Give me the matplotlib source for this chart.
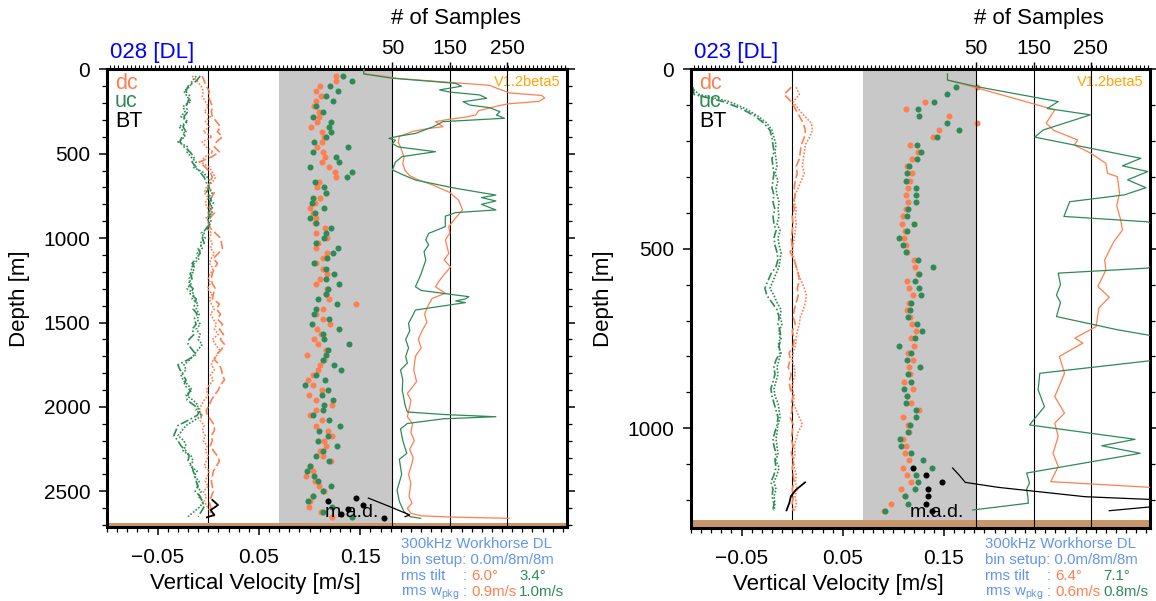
import numpy as np
import matplotlib
matplotlib.use("Agg")
import matplotlib.pyplot as plt
from matplotlib.ticker import MultipleLocator, FixedLocator, FuncFormatter

plt.rcParams['font.family'] = ['Liberation Sans', 'DejaVu Sans']
plt.rcParams['mathtext.fontset'] = 'custom'
plt.rcParams['mathtext.rm'] = 'Liberation Sans'
plt.rcParams['mathtext.it'] = 'Liberation Sans:italic'

ORANGE = '#FF7F50'
GREEN = '#2E8B57'
VERS = '#FFA500'
INFO = '#6495ED'
SEABED = '#C8966A'
BAND = '#C8C8C8'

# ---------------- cast 028 (left) ----------------
L_top, L_step = 40, 30           # depth bins of profiles [m]
L_dc1 = [-0.006, -0.004, -0.002, 0.001, 0.000, 0.002, 0.004, 0.003, 0.004, 0.008,
         0.012, 0.009, 0.014, 0.008, 0.006, 0.011, 0.003, -0.009, -0.003, 0.002,
         0.004, 0.001, 0.000, 0.006, 0.003, 0.002, 0.001, 0.006, 0.002, 0.000,
         0.002, 0.007, 0.012, 0.013, 0.014, 0.010, 0.005, 0.009, 0.006, 0.004,
         0.003, 0.004, 0.007, 0.005, 0.004, 0.011, 0.008, 0.012, 0.009, 0.014,
         0.011, 0.015, 0.012, 0.016, 0.013, 0.008, 0.006, 0.011, 0.013, 0.014,
         0.016, 0.012, 0.010, 0.006, 0.003, 0.001, -0.002, -0.001, 0.003, 0.006,
         0.006, 0.003, 0.004, 0.002, 0.005, 0.009, 0.011, 0.008, 0.005, 0.004,
         0.003, 0.004, 0.005, 0.003, 0.001, 0.002, 0.004, 0.006]
L_dc2 = [-0.016, -0.011, -0.007, -0.005, -0.006, -0.003, 0.000, -0.004, 0.002, -0.003,
         0.001, -0.005, 0.004, -0.006, -0.002, 0.005, -0.004, -0.007, 0.001, 0.004,
         0.007, 0.004, -0.002, -0.004, 0.000, -0.003, -0.001, 0.003, -0.002, 0.001,
         -0.001, 0.003, 0.001, 0.004, 0.002, 0.006, 0.003, 0.001, 0.005, 0.002,
         0.000, 0.002, -0.001, 0.004, 0.001, 0.003, 0.006, 0.002, 0.005, 0.008,
         0.006, 0.010, 0.004, 0.007, 0.011, 0.009, 0.005, 0.003, 0.006, 0.002,
         0.005, 0.001, -0.002, 0.000, -0.004, -0.007, -0.009, -0.006, -0.008, -0.004,
         -0.006, -0.003, -0.005, -0.001, -0.003, 0.000, -0.002, -0.004, 0.001, -0.001,
         -0.003, 0.000, -0.005, -0.002, -0.004, -0.001, 0.002, 0.003]
L_uc1 = [-0.008, -0.012, -0.020, -0.022, -0.018, -0.020, -0.022, -0.020, -0.024, -0.022,
         -0.025, -0.022, -0.026, -0.028, -0.024, -0.018, -0.014, -0.016, -0.012, -0.008,
         -0.004, -0.002, 0.001, -0.002, 0.003, 0.001, 0.004, 0.000, 0.002, 0.003,
         -0.002, -0.004, -0.006, -0.004, -0.010, -0.008, -0.012, -0.016, -0.013, -0.018,
         -0.016, -0.020, -0.015, -0.018, -0.012, -0.013, -0.015, -0.011, -0.014, -0.012,
         -0.016, -0.014, -0.019, -0.020, -0.016, -0.012, -0.020, -0.030, -0.028, -0.025,
         -0.022, -0.024, -0.018, -0.020, -0.021, -0.014, -0.008, -0.011, -0.020, -0.030,
         -0.032, -0.034, -0.030, -0.027, -0.022, -0.019, -0.020, -0.016, -0.015, -0.013,
         -0.012, -0.010, -0.013, -0.008, -0.006, -0.004, -0.007, -0.010]
L_uc2 = [-0.012, -0.016, -0.018, -0.024, -0.021, -0.017, -0.025, -0.023, -0.027, -0.020,
         -0.029, -0.024, -0.023, -0.030, -0.020, -0.021, -0.017, -0.012, -0.015, -0.005,
         -0.001, 0.002, -0.001, 0.004, 0.000, 0.005, 0.002, 0.004, -0.001, 0.001,
         0.000, -0.007, -0.003, -0.008, -0.006, -0.011, -0.009, -0.014, -0.017, -0.015,
         -0.019, -0.017, -0.021, -0.014, -0.016, -0.010, -0.012, -0.009, -0.011, -0.008,
         -0.012, -0.008, -0.010, -0.006, -0.010, -0.014, -0.018, -0.024, -0.022, -0.027,
         -0.025, -0.020, -0.016, -0.022, -0.015, -0.010, -0.012, -0.006, -0.014, -0.022,
         -0.026, -0.030, -0.024, -0.022, -0.025, -0.017, -0.015, -0.018, -0.011, -0.014,
         -0.009, -0.012, -0.007, -0.010, -0.005, -0.008, -0.014, -0.020]
L_dc_mad = [0.126, 0.126, 0.110, 0.106, 0.111, 0.106, 0.104, 0.109, 0.109, 0.107,
            0.101, 0.112, 0.114, 0.112, 0.107, 0.113, 0.115, 0.112, 0.119, 0.125,
            0.126, 0.109, 0.107, 0.116, 0.110, 0.105, 0.100, 0.103, 0.106, 0.105,
            0.115, 0.106, 0.117, 0.108, 0.106, 0.117, 0.113, 0.106, 0.113, 0.117,
            0.110, 0.106, 0.117, 0.116, 0.119, 0.146, 0.113, 0.106, 0.113, 0.120,
            0.107, 0.111, 0.104, 0.108, 0.116, 0.097, 0.114, 0.110, 0.108, 0.103,
            0.098, 0.103, 0.112, 0.099, 0.106, 0.122, 0.106, 0.100, 0.112, 0.106,
            0.118, 0.122, 0.114, 0.116, 0.110, 0.113, 0.121, 0.100, 0.103, 0.096,
            0.105, 0.109, 0.114, 0.103, 0.100, 0.099, 0.111, 0.122]
L_uc_mad = [0.133, 0.142, 0.120, 0.128, 0.116, 0.123, 0.106, 0.113, 0.103, 0.121,
            0.119, 0.121, 0.116, 0.104, 0.138, 0.103, 0.126, 0.129, 0.100, 0.142,
            0.137, 0.105, 0.114, 0.116, 0.103, 0.102, 0.114, 0.105, 0.100, 0.106,
            0.121, 0.116, 0.114, 0.106, 0.128, 0.123, 0.117, 0.104, 0.116, 0.124,
            0.116, 0.129, 0.118, 0.116, 0.108, 0.127, 0.106, 0.104, 0.119, 0.102,
            0.129, 0.113, 0.114, 0.139, 0.118, 0.116, 0.113, 0.124, 0.131, 0.106,
            0.115, 0.095, 0.118, 0.112, 0.123, 0.114, 0.113, 0.103, 0.119, 0.130,
            0.109, 0.118, 0.108, 0.127, 0.113, 0.106, 0.119, 0.100, 0.097, 0.104,
            0.108, 0.121, 0.113, 0.103, 0.098, 0.122, 0.113, 0.142]
L_bt_d = [2551, 2581, 2611, 2640, 2654]
L_bt_v = [0.004, 0.0096, 0.0023, 0.006, -0.0014]
L_btmad_d = [2538, 2557, 2583, 2602, 2636, 2660]
L_btmad_v = [0.146, 0.118, 0.153, 0.138, 0.131, 0.173]
L_dcn_d = [0, 24, 55, 95, 110, 140, 155, 170, 190, 205, 220, 245, 270, 282, 298, 310, 340, 352,
           368, 398, 430, 470, 520, 560, 600, 630, 655, 685, 730, 775, 833, 893, 932, 970, 1011,
           1050, 1090, 1130, 1170, 1200, 1228, 1260, 1288, 1327, 1357, 1400, 1450, 1500, 1545,
           1600, 1650, 1700, 1781, 1850, 1920, 1960, 2000, 2058, 2100, 2150, 2200, 2250, 2300,
           2335, 2400, 2450, 2500, 2532, 2570, 2600, 2630, 2645, 2652, 2660]
L_dcn = [0, 0, 62, 219, 230, 254, 310, 315, 305, 250, 230, 200, 195, 180, 145, 125, 138, 110,
         85, 62, 60, 65, 70, 68, 72, 80, 95, 120, 150, 165, 172, 157, 148, 150, 142,
         145, 148, 140, 151, 144, 137, 130, 125, 142, 119, 112, 106, 110, 102,
         95, 100, 90, 87, 92, 76, 82, 80, 76, 85, 82, 88, 80, 86,
         84, 78, 82, 80, 79, 84, 76, 82, 100, 150, 253]
L_ucn_d = [0, 28, 53, 83, 100, 122, 135, 152, 172, 192, 212, 227, 251, 271, 290, 310, 340, 380,
           395, 409, 420, 440, 460, 488, 517, 550, 596, 620, 656, 705, 745, 760, 780, 800, 833,
           849, 870, 932, 972, 1010, 1040, 1080, 1130, 1170, 1210, 1250, 1288, 1310, 1347, 1360,
           1372, 1382, 1426, 1460, 1505, 1550, 1600, 1650, 1702, 1740, 1781, 1840, 1900, 1990,
           2030, 2045, 2058, 2070, 2098, 2130, 2200, 2275, 2310, 2400, 2493, 2560, 2620, 2650, 2660]
L_ucn = [0, 0, 50, 160, 170, 132, 150, 202, 214, 173, 185, 219, 237, 231, 245, 138, 121, 90,
         62, 44, 55, 50, 60, 125, 67, 55, 50, 65, 90, 160, 230, 205, 230, 205, 230,
         160, 142, 142, 113, 108, 113, 105, 108, 104, 100, 95, 90, 100, 183, 177,
         160, 177, 90, 85, 78, 80, 73, 78, 73, 76, 64, 68, 67, 72,
         76, 140, 230, 140, 76, 64, 68, 75, 62, 66, 58, 62, 70, 81, 99]
L_btn_d = [2540, 2590, 2640, 2650]
L_btn = [8, 45, 80, 72]

# ---------------- cast 023 (right) ----------------
R_top, R_step = 50, 20
R_dc1 = [-0.001, -0.008, -0.001, 0.003, 0.007, 0.011, 0.013, 0.012, 0.009, 0.008,
         0.007, 0.004, 0.005, 0.003, 0.002, 0.003, 0.001, 0.002, 0.000, 0.001,
         0.000, -0.001, 0.000, -0.002, 0.002, 0.004, 0.006, 0.007, 0.005, 0.006,
         0.004, 0.002, 0.001, 0.003, 0.000, 0.002, 0.001, -0.003, -0.002, -0.004,
         -0.001, -0.003, -0.002, 0.001, -0.001, 0.000, -0.002, 0.001, 0.000, -0.001,
         0.001, -0.001, 0.002, 0.000, 0.001, 0.002, 0.000, 0.001, 0.000, 0.001]
R_dc2 = [0.004, 0.007, 0.001, 0.006, 0.012, 0.019, 0.020, 0.017, 0.013, 0.012,
         0.011, 0.010, 0.012, 0.009, 0.006, 0.003, 0.002, 0.004, 0.003, 0.004,
         0.003, 0.002, 0.001, 0.000, 0.002, 0.004, 0.006, 0.009, 0.012, 0.014,
         0.013, 0.011, 0.008, 0.007, 0.005, 0.004, 0.003, 0.001, 0.000, 0.002,
         0.003, 0.001, 0.000, 0.002, 0.001, 0.004, 0.007, 0.010, 0.006, 0.004,
         0.002, 0.003, 0.001, 0.002, 0.004, 0.003, 0.005, 0.003, 0.004, 0.002]
R_uc1 = [-0.098, -0.097, -0.068, -0.050, -0.037, -0.028, -0.022, -0.020, -0.019, -0.018,
         -0.020, -0.019, -0.018, -0.019, -0.020, -0.018, -0.019, -0.017, -0.019, -0.018,
         -0.016, -0.018, -0.017, -0.015, -0.014, -0.016, -0.021, -0.024, -0.027, -0.025,
         -0.020, -0.015, -0.013, -0.014, -0.012, -0.011, -0.013, -0.012, -0.016, -0.018,
         -0.017, -0.019, -0.021, -0.020, -0.018, -0.016, -0.014, -0.015, -0.017, -0.019,
         -0.018, -0.016, -0.017, -0.016, -0.018, -0.021, -0.019, -0.020, -0.018, -0.019]
R_uc2 = [-0.100, -0.092, -0.062, -0.046, -0.034, -0.025, -0.020, -0.018, -0.016, -0.017,
         -0.016, -0.015, -0.017, -0.014, -0.016, -0.015, -0.013, -0.014, -0.013, -0.015,
         -0.012, -0.014, -0.013, -0.011, -0.012, -0.013, -0.016, -0.019, -0.022, -0.018,
         -0.015, -0.011, -0.012, -0.010, -0.013, -0.012, -0.014, -0.011, -0.013, -0.015,
         -0.014, -0.016, -0.018, -0.017, -0.014, -0.013, -0.012, -0.014, -0.015, -0.016,
         -0.015, -0.014, -0.016, -0.013, -0.015, -0.018, -0.016, -0.018, -0.017, -0.018]
R_dc_mad = [0.1827, np.nan, 0.131, 0.112, 0.1546, 0.1827, 0.145, 0.1395, 0.1167, 0.1245,
            0.118, 0.1137, 0.118, 0.116, 0.1147, 0.112, 0.114, 0.1125, 0.1095, 0.1082,
            0.1114, 0.1105, 0.1127, 0.113, 0.1206, 0.1216, 0.124, 0.1134, 0.1154, 0.1196,
            0.1154, 0.1137, 0.1160, 0.118, 0.1225, 0.1176, 0.1206, 0.114, 0.1196, 0.1157,
            0.116, 0.1105, 0.119, 0.113, 0.1173, 0.1255, 0.1098, 0.1147, 0.1150, 0.1092,
            0.1120, 0.1114, 0.1154, 0.1098, 0.1134, 0.1173, 0.1075, 0.1114, 0.0974, 0.0912]
R_uc_mad = [0.1614, 0.1529, 0.140, 0.1245, 0.1255, 0.1532, 0.165, 0.1435, 0.1232, 0.1268,
            0.1235, 0.1157, 0.1134, 0.112, 0.1222, 0.1225, 0.1219, 0.1141, 0.1134, 0.120,
            0.1134, 0.1059, 0.1095, 0.1124, 0.1242, 0.139, 0.1258, 0.1209, 0.1255, 0.1268,
            0.117, 0.1163, 0.114, 0.1238, 0.128, 0.1216, 0.1056, 0.1176, 0.1137, 0.1261,
            0.1141, 0.1173, 0.1108, 0.113, 0.112, 0.1219, 0.1222, 0.1163, 0.1147, 0.1069,
            0.1072, 0.1176, 0.1288, 0.1382, 0.1219, 0.1245, 0.1209, 0.1114, 0.1147, 0.0915]
R_bt_d = [1151, 1172, 1190, 1209, 1229]
R_bt_v = [0.0127, 0.0036, -0.0013, -0.0029, -0.0056]
R_btmad_d = [1111, 1130, 1150, 1170, 1190, 1210, 1230]
R_btmad_v = [0.1193, 0.132, 0.148, 0.1346, 0.1346, 0.1327, 0.1386]
R_dcn_d = [30, 53, 113, 150, 170, 197, 211, 234, 262, 290, 299, 345, 380, 420, 448, 480, 531,
           560, 605, 635, 665, 717, 749, 763, 800, 847, 912, 958, 986, 1023, 1070, 1107, 1149, 1171]
R_dcn = [0, 54, 187, 172, 185, 227, 221, 250, 276, 279, 296, 300, 295, 302, 305, 290, 274,
         276, 262, 282, 264, 259, 222, 236, 195, 204, 187, 204, 187, 193, 184, 193, 180, 420]
R_ucn_d = [13, 30, 48, 90, 109, 127, 169, 189, 248, 269, 285, 308, 330, 350, 369, 410, 425,
           490, 554, 568, 600, 629, 650, 689, 726, 760, 800, 847, 893, 940, 991, 1031, 1049,
           1070, 1125, 1153, 1170, 1190, 1209, 1228]
R_ucn = [0, 0, 50, 193, 174, 249, 167, 152, 337, 305, 349, 314, 346, 308, 213, 203, 349,
         420, 349, 193, 197, 190, 197, 190, 297, 420, 420, 161, 158, 169, 143, 327, 269,
         336, 138, 143, 138, 140, 141, 44]
R_btn_d = [1111, 1130, 1151, 1165, 1191, 1205, 1230]
R_btn = [9, 20, 31, 89, 240, 450, 282]

VEL_LIM = (-0.1, 0.3536)
SMP_LIM = (-447, 353)
SMP_TICKS = [50, 150, 250]
VEL_TICKS = [-0.05, 0.05, 0.15]

fig = plt.figure(figsize=(11.56, 6.01), dpi=100)


def fmt_vel(v, pos):
    return f'{v:.2f}'.replace('-', '\u2212')


def panel(rect, name, top, step, dc1, dc2, uc1, uc2, dcm, ucm, bt_d, bt_v, btm_d, btm_v,
          dcn_d, dcn, ucn_d, ucn, btn_d, btn, ymax, seabed, ymajor, mad_pos, info):
    ax = fig.add_axes(rect)
    ax2 = ax.twiny()
    ax.set_xlim(*VEL_LIM)
    ax2.set_xlim(*SMP_LIM)
    ax.set_ylim(ymax, 0)

    ax.axvspan(0.07, 0.1818, color=BAND, lw=0, zorder=0)
    ax.axhspan(seabed, ymax, color=SEABED, lw=0, zorder=6)
    ax.axvline(0, color='black', lw=0.8, zorder=1)
    for s in SMP_TICKS:
        ax2.axvline(s, color='black', lw=0.8, zorder=1)

    d = top + step * np.arange(len(dc1))
    ax.plot(dc1, d, color=ORANGE, lw=1.2, ls=(0, (5, 2)), zorder=3)
    ax.plot(dc2, d, color=ORANGE, lw=1.2, ls=(0, (1, 1)), zorder=3)
    ax.plot(uc1, d, color=GREEN, lw=1.2, ls=(0, (5, 1.5, 1, 1.5)), zorder=3)
    ax.plot(uc2, d, color=GREEN, lw=1.2, ls=(0, (1, 1)), zorder=3)
    ax.plot(bt_v, bt_d, color='black', lw=1.3, zorder=4)

    dm = top + step * np.arange(len(dcm))
    ax.scatter(dcm, dm, s=19, color=ORANGE, lw=0, zorder=4)
    ax.scatter(ucm, dm, s=19, color=GREEN, lw=0, zorder=4)
    ax.scatter(btm_v, btm_d, s=19, color='black', lw=0, zorder=4)

    ax2.plot(dcn, dcn_d, color=ORANGE, lw=0.9, zorder=3)
    ax2.plot(ucn, ucn_d, color=GREEN, lw=0.9, zorder=3)
    ax2.plot(btn, btn_d, color='black', lw=0.9, zorder=3)

    for sp in ax.spines.values():
        sp.set_linewidth(2.2)
        sp.set_zorder(10)
    for sp in ax2.spines.values():
        sp.set_visible(False)
    ax2.patch.set_visible(False)

    ax.xaxis.set_major_locator(FixedLocator(VEL_TICKS))
    ax.xaxis.set_minor_locator(MultipleLocator(0.01))
    ax.xaxis.set_major_formatter(FuncFormatter(fmt_vel))
    ax.tick_params(axis='x', which='major', direction='out', length=6, width=1.1,
                   labelsize=15, pad=9, top=False, bottom=True)
    ax.tick_params(axis='x', which='minor', direction='out', length=3.5, width=0.9,
                   top=False, bottom=True)
    ax.yaxis.set_major_locator(FixedLocator(ymajor))
    ax.yaxis.set_minor_locator(MultipleLocator(100))
    ax.tick_params(axis='y', which='major', direction='out', length=6, width=1.1,
                   labelsize=15, pad=6, left=True, right=True, labelright=False)
    ax.tick_params(axis='y', which='minor', direction='out', length=3.5, width=0.9,
                   left=True, right=True)

    ax2.xaxis.set_major_locator(FixedLocator(SMP_TICKS))
    ax2.xaxis.set_minor_locator(MultipleLocator(7))
    ax2.tick_params(axis='x', which='major', direction='out', length=5, width=1.0,
                    labelsize=15, pad=3)
    ax2.tick_params(axis='x', which='minor', direction='out', length=3, width=0.8)

    ax.text(-0.19, 0.5, 'Depth [m]', transform=ax.transAxes, rotation=90,
            ha='center', va='center', fontsize=16)
    ax.text(0.322, -0.122, 'Vertical Velocity [m/s]', transform=ax.transAxes,
            ha='center', va='center', fontsize=16)
    ax.text(0.007, 1.025, name, transform=ax.transAxes, ha='left', va='baseline',
            fontsize=16, color='blue')
    ax.text(0.759, 1.11, '# of Samples', transform=ax.transAxes, ha='center',
            va='center', fontsize=16)
    ax.text(0.986, 0.988, 'V1.2beta5', transform=ax.transAxes, ha='right', va='top',
            fontsize=10.5, color=VERS, zorder=11)
    ax.text(0.017, 0.970, 'dc', transform=ax.transAxes, ha='left', va='center',
            fontsize=15.5, color=ORANGE, zorder=11)
    ax.text(0.017, 0.929, 'uc', transform=ax.transAxes, ha='left', va='center',
            fontsize=15.5, color=GREEN, zorder=11)
    ax.text(0.017, 0.887, 'BT', transform=ax.transAxes, ha='left', va='center',
            fontsize=15.5, color='black', zorder=11)
    ax.text(mad_pos[0], mad_pos[1], 'm.a.d.', ha='center', va='center', fontsize=14,
            color='black', zorder=5)

    # instrument information block (figure pixel positions)
    x0 = rect[0] * 1156

    def ftxt(dx, ypix, s, c=INFO):
        fig.text((x0 + dx) / 1156, 1 - ypix / 601, s, ha='left', va='center',
                 fontsize=10.8, color=c)
    ftxt(294, 544, '300kHz Workhorse DL')
    ftxt(294, 560, 'bin setup: 0.0m/8m/8m')
    ftxt(294, 576, 'rms tilt')
    ftxt(356, 576, ':')
    ftxt(364, 576, info[0], ORANGE)
    ftxt(412, 576, info[1], GREEN)
    ftxt(294, 593, r'rms w$_{\mathrm{pkg}}$')
    ftxt(356, 592, ':')
    ftxt(364, 592, info[2], ORANGE)
    ftxt(412, 592, info[3], GREEN)
    return ax


panel([107 / 1156, 73.7 / 601, 459.5 / 1156, 458 / 601], '028 [DL]', L_top, L_step,
      L_dc1, L_dc2, L_uc1, L_uc2, L_dc_mad, L_uc_mad, L_bt_d, L_bt_v, L_btmad_d, L_btmad_v,
      L_dcn_d, L_dcn, L_ucn_d, L_ucn, L_btn_d, L_btn, 2713, 2690,
      [0, 500, 1000, 1500, 2000, 2500], (0.142, 2625),
      ['6.0°', '3.4°', '0.9m/s', '1.0m/s'])

panel([691 / 1156, 72.7 / 601, 459 / 1156, 459 / 601], '023 [DL]', R_top, R_step,
      R_dc1, R_dc2, R_uc1, R_uc2, R_dc_mad, R_uc_mad, R_bt_d, R_bt_v, R_btmad_d, R_btmad_v,
      R_dcn_d, R_dcn, R_ucn_d, R_ucn, R_btn_d, R_btn, 1279, 1255,
      [0, 500, 1000], (0.143, 1234),
      ['6.4°', '7.1°', '0.6m/s', '0.8m/s'])

fig.savefig('out.png', dpi=100)
